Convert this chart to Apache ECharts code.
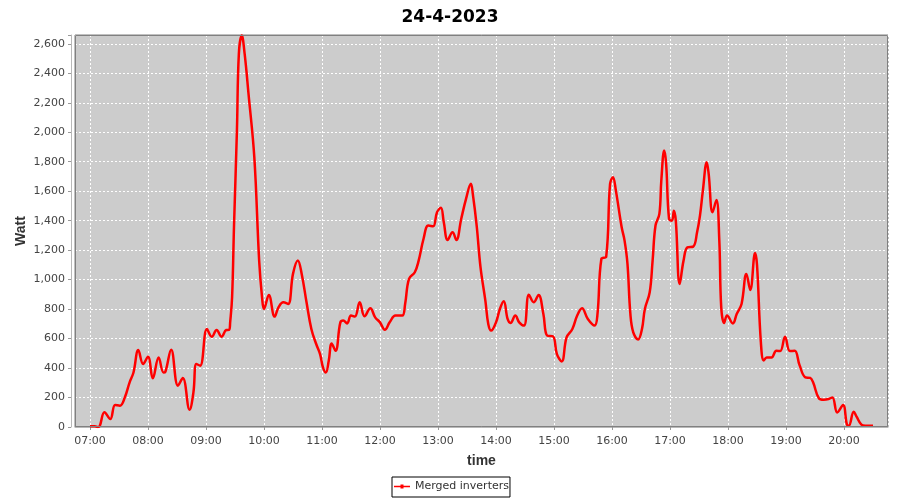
<!DOCTYPE html>
<html>
<head>
<meta charset="utf-8">
<script src="https://cdn.jsdelivr.net/npm/echarts@6/dist/echarts.min.js"></script>
<style>html,body{margin:0;padding:0;background:#fff;}#c{width:900px;height:500px;}</style>
</head>
<body>
<div id="c"></div>
<script>
const chartTitle = '24-4-2023';
const seriesName = 'Merged inverters';
const times = ['07:00','07:05','07:08','07:10','07:15','07:21','07:26','07:31','07:36','07:41','07:45','07:50','07:55','08:00','08:05','08:11','08:16','08:18','08:24','08:31','08:36','08:43','08:47','08:50','08:54','09:01','09:06','09:11','09:16','09:21','09:24','09:25','09:27','09:29','09:32','09:34','09:37','09:40','09:44','09:50','09:55','09:58','10:00','10:05','10:11','10:15','10:20','10:25','10:30','10:35','10:39','10:44','10:49','10:54','10:58','11:01','11:04','11:07','11:10','11:14','11:19','11:22','11:26','11:30','11:34','11:39','11:44','11:50','11:55','12:00','12:05','12:10','12:16','12:23','12:26','12:30','12:36','12:40','12:45','12:50','12:55','12:59','13:03','13:06','13:10','13:15','13:19','13:24','13:29','13:34','13:36','13:40','13:44','13:49','13:52','13:55','14:00','14:04','14:08','14:12','14:15','14:20','14:24','14:29','14:34','14:39','14:44','14:49','14:53','14:59','15:03','15:08','15:13','15:19','15:24','15:29','15:35','15:42','15:45','15:49','15:54','15:58','16:01','16:04','16:10','16:13','16:16','16:19','16:22','16:27','16:31','16:34','16:39','16:42','16:45','16:49','16:51','16:54','16:56','16:59','17:02','17:04','17:06','17:10','17:14','17:18','17:24','17:28','17:31','17:34','17:38','17:40','17:44','17:48','17:51','17:53','17:56','17:59','18:05','18:09','18:14','18:19','18:23','18:28','18:30','18:34','18:37','18:40','18:45','18:50','18:54','18:59','19:04','19:09','19:14','19:20','19:25','19:28','19:34','19:39','19:44','19:48','19:53','19:59','20:03','20:05','20:10','20:13','20:18','20:22','20:30'];
const watts = [5,5,0,5,100,54,150,145,200,303,370,523,428,477,330,472,370,375,525,280,332,117,235,428,416,665,613,658,613,658,660,710,880,1367,2011,2532,2656,2532,2260,1830,1129,880,801,896,749,812,846,835,1039,1129,1039,846,665,563,495,405,370,450,567,518,710,722,703,756,749,846,751,805,744,710,660,710,756,756,835,1005,1050,1129,1276,1367,1362,1457,1487,1389,1269,1321,1269,1412,1548,1650,1582,1367,1083,857,699,654,710,801,853,733,706,756,710,688,898,846,896,767,620,615,495,445,608,665,756,805,733,688,767,1140,1156,1650,1695,1604,1355,1265,1107,767,642,593,665,801,914,1129,1367,1446,1672,1876,1786,1412,1400,1468,1400,971,1129,1219,1224,1321,1434,1604,1797,1718,1457,1541,1265,812,706,756,703,767,835,1039,930,1180,1100,574,452,472,472,518,515,613,515,518,420,337,333,303,195,185,190,201,99,149,16,9,104,70,16,9,9];
const xMinTime = '06:44:30';
const xMaxTime = '20:45:30';
const yMax = 2660;
const yStep = 200;

function toTs(s) {
  const p = s.split(':').map(Number);
  return new Date(2023, 3, 24, p[0], p[1], p[2] || 0).getTime();
}
const data = times.map((t, i) => [toTs(t), watts[i]]);
const pad2 = n => (n < 10 ? '0' : '') + n;
const tickFont = 'DejaVu Sans';
const G = {left: 75, right: 12, top: 35, bottom: 73};

const chart = echarts.init(document.getElementById('c'), null, {renderer: 'canvas'});
chart.setOption({
  animation: false,
  backgroundColor: '#ffffff',
  title: {
    text: chartTitle, left: 'center', top: 4,
    textStyle: {fontFamily: 'DejaVu Sans', fontWeight: 'bold', fontSize: 17, color: '#000'}
  },
  legend: {
    data: [seriesName], left: 392, top: 477,
    borderColor: '#000', borderWidth: 1, padding: [4, 1, 5, 2],
    itemWidth: 16, itemHeight: 4,
    icon: 'path://M0,1.2L16,1.2L16,2.8L0,2.8Z M6.5,0L9.5,0L9.5,4L6.5,4Z',
    textStyle: {fontFamily: tickFont, fontSize: 11, color: '#333'}
  },
  grid: {
    left: G.left, right: G.right, top: G.top, bottom: G.bottom, show: true,
    backgroundColor: '#cccccc', borderColor: '#808080', borderWidth: 1
  },
  graphic: [{
    type: 'rect', z: 100, silent: true,
    shape: {x: G.left + 0.5, y: G.top + 0.5, width: 900 - G.left - G.right - 1, height: 500 - G.top - G.bottom - 1},
    style: {fill: null, stroke: '#808080', lineWidth: 1}
  }],
  xAxis: {
    type: 'time', min: toTs(xMinTime), max: toTs(xMaxTime),
    minInterval: 3600000, maxInterval: 3600000,
    offset: 4,
    name: 'time', nameLocation: 'middle', nameGap: 23,
    nameTextStyle: {fontFamily: 'Liberation Sans', fontWeight: 'bold', fontSize: 14, color: '#333'},
    axisLine: {show: true, lineStyle: {color: '#b8b8b8', width: 1}},
    axisTick: {show: true, length: 3, lineStyle: {color: '#999'}},
    axisLabel: {
      fontFamily: tickFont, fontSize: 11, color: '#444', margin: 5,
      showMinLabel: false, showMaxLabel: false, hideOverlap: false,
      formatter: function (v) {
        const d = new Date(v);
        if (d.getMinutes() !== 0 || d.getSeconds() !== 0) return '';
        return pad2(d.getHours()) + ':' + pad2(d.getMinutes());
      }
    },
    splitLine: {show: true, lineStyle: {color: '#ffffff', type: [2, 2], width: 1}}
  },
  yAxis: {
    type: 'value', min: 0, max: yMax, interval: yStep,
    offset: 4,
    name: 'Watt', nameLocation: 'middle', nameGap: 43, nameRotate: 90,
    nameMoveOverlap: false,
    nameTextStyle: {fontFamily: 'Liberation Sans', fontWeight: 'bold', fontSize: 14, color: '#333'},
    axisLine: {show: true, lineStyle: {color: '#b8b8b8', width: 1}},
    axisTick: {show: true, length: 3, lineStyle: {color: '#999'}},
    axisLabel: {
      fontFamily: tickFont, fontSize: 11, color: '#444', margin: 6,
      formatter: function (v) {
        if (v % yStep !== 0) return '';
        return v.toLocaleString('en-US');
      }
    },
    splitLine: {show: true, lineStyle: {color: '#ffffff', type: [2, 2], width: 1}}
  },
  series: [{
    name: seriesName, type: 'line', data: data,
    smooth: 0.4, symbol: 'none',
    lineStyle: {color: '#ff0000', width: 2.5},
    itemStyle: {color: '#ff0000'}
  }]
});
</script>
</body>
</html>
